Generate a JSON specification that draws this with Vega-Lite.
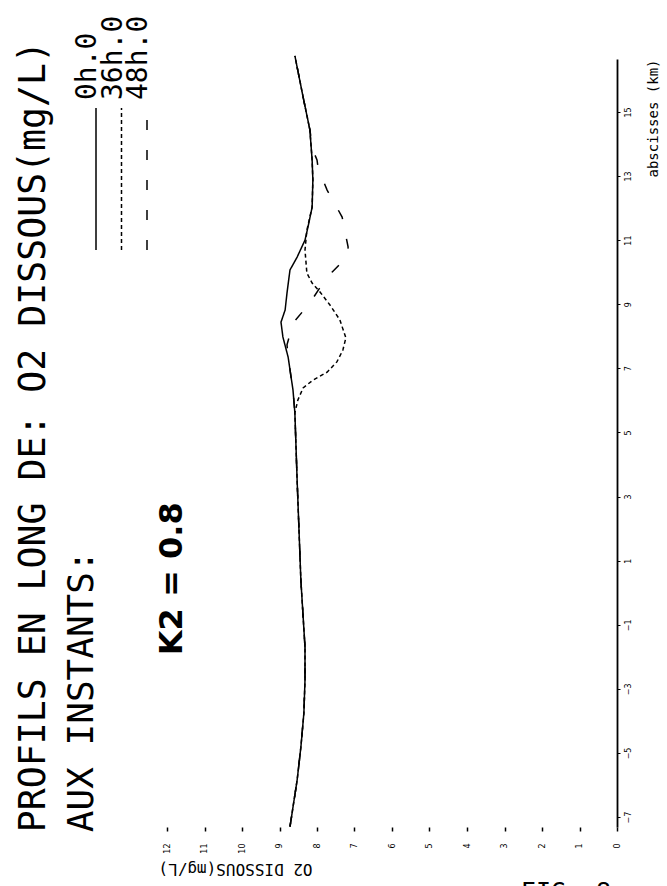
{
  "$schema": "https://vega.github.io/schema/vega-lite/v6.json",
  "width": 450,
  "height": 768,
  "autosize": {"type": "none"},
  "padding": {"left": 167, "top": 59, "right": 50, "bottom": 59},
  "background": "white",
  "config": {
    "view": {"stroke": null},
    "font": "DejaVu Sans",
    "axisBottom": {
      "domain": false, "grid": false, "ticks": true, "tickSize": 4, "tickWidth": 1.5, "tickColor": "black",
      "labelAngle": -90, "labelAlign": "right", "labelBaseline": "middle", "labelFontSize": 8,
      "labelColor": "black", "labelPadding": 12, "labelFlush": false, "labelOverlap": false, "labelSeparation": 0,
      "titleAngle": 180, "titleX": 68, "titleY": 41,
      "titleAlign": "center", "titleBaseline": "middle", "titleFont": "DejaVu Sans Mono",
      "titleFontSize": 16, "titleFontWeight": "normal", "titleColor": "black"
    },
    "axisRight": {
      "grid": false, "domain": true, "domainColor": "black", "domainWidth": 1.8,
      "tickSize": 3, "tickColor": "black", "tickWidth": 1,
      "labelAngle": -90, "labelAlign": "center", "labelBaseline": "top", "labelPadding": 4,
      "labelFontSize": 8, "labelColor": "black", "labelFlush": false, "labelOverlap": false,
      "titleAngle": -90, "titleAlign": "left", "titleBaseline": "alphabetic",
      "titleX": 40, "titleY": 118, "titleFont": "DejaVu Sans Mono", "titleFontSize": 14,
      "titleFontWeight": "normal", "titleColor": "black"
    }
  },
  "datasets": {
    "profiles": [
      {"series": "0h.0", "km": 16.75, "o2": 8.59},
      {"series": "0h.0", "km": 15.46, "o2": 8.37},
      {"series": "0h.0", "km": 14.44, "o2": 8.19},
      {"series": "0h.0", "km": 13.5, "o2": 8.13},
      {"series": "0h.0", "km": 12.88, "o2": 8.11},
      {"series": "0h.0", "km": 12.03, "o2": 8.13},
      {"series": "0h.0", "km": 11.41, "o2": 8.24},
      {"series": "0h.0", "km": 11.0, "o2": 8.32},
      {"series": "0h.0", "km": 10.47, "o2": 8.53},
      {"series": "0h.0", "km": 10.07, "o2": 8.72},
      {"series": "0h.0", "km": 9.35, "o2": 8.8},
      {"series": "0h.0", "km": 8.82, "o2": 8.85},
      {"series": "0h.0", "km": 8.44, "o2": 8.96},
      {"series": "0h.0", "km": 7.98, "o2": 8.91},
      {"series": "0h.0", "km": 7.35, "o2": 8.77},
      {"series": "0h.0", "km": 6.32, "o2": 8.64},
      {"series": "0h.0", "km": 5.61, "o2": 8.59},
      {"series": "0h.0", "km": 3.51, "o2": 8.53},
      {"series": "0h.0", "km": 0.39, "o2": 8.43},
      {"series": "0h.0", "km": -1.7, "o2": 8.32},
      {"series": "0h.0", "km": -2.73, "o2": 8.32},
      {"series": "0h.0", "km": -3.76, "o2": 8.35},
      {"series": "0h.0", "km": -4.82, "o2": 8.43},
      {"series": "0h.0", "km": -5.85, "o2": 8.53},
      {"series": "0h.0", "km": -7.3, "o2": 8.72},
      {"series": "36h.0", "km": 16.75, "o2": 8.59},
      {"series": "36h.0", "km": 15.46, "o2": 8.37},
      {"series": "36h.0", "km": 14.44, "o2": 8.19},
      {"series": "36h.0", "km": 13.5, "o2": 8.13},
      {"series": "36h.0", "km": 12.88, "o2": 8.11},
      {"series": "36h.0", "km": 12.03, "o2": 8.13},
      {"series": "36h.0", "km": 11.31, "o2": 8.27},
      {"series": "36h.0", "km": 10.69, "o2": 8.32},
      {"series": "36h.0", "km": 9.97, "o2": 8.27},
      {"series": "36h.0", "km": 9.66, "o2": 8.13},
      {"series": "36h.0", "km": 9.38, "o2": 7.92},
      {"series": "36h.0", "km": 8.97, "o2": 7.65},
      {"series": "36h.0", "km": 8.51, "o2": 7.39},
      {"series": "36h.0", "km": 7.95, "o2": 7.23},
      {"series": "36h.0", "km": 7.57, "o2": 7.31},
      {"series": "36h.0", "km": 7.2, "o2": 7.47},
      {"series": "36h.0", "km": 6.88, "o2": 7.73},
      {"series": "36h.0", "km": 6.63, "o2": 8.11},
      {"series": "36h.0", "km": 6.39, "o2": 8.37},
      {"series": "36h.0", "km": 6.01, "o2": 8.51},
      {"series": "36h.0", "km": 5.61, "o2": 8.59},
      {"series": "36h.0", "km": 3.51, "o2": 8.53},
      {"series": "36h.0", "km": 0.39, "o2": 8.43},
      {"series": "36h.0", "km": -1.7, "o2": 8.32},
      {"series": "36h.0", "km": -2.73, "o2": 8.32},
      {"series": "36h.0", "km": -3.76, "o2": 8.35},
      {"series": "36h.0", "km": -4.82, "o2": 8.43},
      {"series": "36h.0", "km": -5.85, "o2": 8.53},
      {"series": "36h.0", "km": -7.3, "o2": 8.72},
      {"series": "48h.0", "km": 16.75, "o2": 8.59},
      {"series": "48h.0", "km": 15.46, "o2": 8.37},
      {"series": "48h.0", "km": 14.44, "o2": 8.19},
      {"series": "48h.0", "km": 13.81, "o2": 8.11},
      {"series": "48h.0", "km": 13.5, "o2": 8.0},
      {"series": "48h.0", "km": 13.25, "o2": 7.97},
      {"series": "48h.0", "km": 12.56, "o2": 7.73},
      {"series": "48h.0", "km": 11.72, "o2": 7.33},
      {"series": "48h.0", "km": 10.78, "o2": 7.17},
      {"series": "48h.0", "km": 10.47, "o2": 7.2},
      {"series": "48h.0", "km": 10.0, "o2": 7.6},
      {"series": "48h.0", "km": 9.66, "o2": 7.84},
      {"series": "48h.0", "km": 9.04, "o2": 8.19},
      {"series": "48h.0", "km": 8.41, "o2": 8.64},
      {"series": "48h.0", "km": 7.73, "o2": 8.8},
      {"series": "48h.0", "km": 7.35, "o2": 8.77},
      {"series": "48h.0", "km": 6.32, "o2": 8.64},
      {"series": "48h.0", "km": 5.61, "o2": 8.59},
      {"series": "48h.0", "km": 3.51, "o2": 8.53},
      {"series": "48h.0", "km": 0.39, "o2": 8.43},
      {"series": "48h.0", "km": -1.7, "o2": 8.32},
      {"series": "48h.0", "km": -2.73, "o2": 8.32},
      {"series": "48h.0", "km": -3.76, "o2": 8.35},
      {"series": "48h.0", "km": -4.82, "o2": 8.43},
      {"series": "48h.0", "km": -5.85, "o2": 8.53},
      {"series": "48h.0", "km": -7.3, "o2": 8.72}
    ],
    "legend": [
      {"series": "0h.0"},
      {"series": "36h.0"},
      {"series": "48h.0"}
    ]
  },
  "resolve": {"scale": {"x": "independent"}},
  "layer": [
    {
      "layer": [
        {
          "data": {"name": "profiles"},
          "mark": {"type": "line", "color": "black", "strokeWidth": 1.5, "strokeCap": "butt"},
          "encoding": {
            "x": {
              "field": "o2", "type": "quantitative",
              "scale": {"domain": [0, 12], "reverse": true, "nice": false, "zero": false},
              "axis": {"orient": "bottom", "values": [0, 1, 2, 3, 4, 5, 6, 7, 8, 9, 10, 11, 12], "tickCount": 13, "title": "O2 DISSOUS(mg/L)"}
            },
            "y": {
              "field": "km", "type": "quantitative",
              "scale": {"domain": [-7.31, 16.65], "nice": false, "zero": false},
              "axis": {"orient": "right", "values": [-7, -5, -3, -1, 1, 3, 5, 7, 9, 11, 13, 15], "title": "abscisses (km)"}
            },
            "strokeDash": {
              "field": "series", "type": "nominal",
              "scale": {"domain": ["0h.0", "36h.0", "48h.0"], "range": [[1, 0], [4, 3], [10, 20]]},
              "legend": null
            },
            "order": {"field": "km", "type": "quantitative"}
          }
        },
        {
          "data": {"values": [{}]},
          "mark": {"type": "text", "text": "PROFILS EN LONG DE:  O2 DISSOUS(mg/L)", "angle": -90, "align": "left",
                   "baseline": "alphabetic", "font": "DejaVu Sans Mono", "fontSize": 36.5, "color": "black"},
          "encoding": {
            "x": {"datum": 15.25, "axis": {"orient": "bottom", "values": [0, 1, 2, 3, 4, 5, 6, 7, 8, 9, 10, 11, 12], "tickCount": 13, "title": "O2 DISSOUS(mg/L)"}},
            "y": {"datum": -7.47, "axis": {"orient": "right", "values": [-7, -5, -3, -1, 1, 3, 5, 7, 9, 11, 13, 15], "title": "abscisses (km)"}}
          }
        },
        {
          "data": {"values": [{}]},
          "mark": {"type": "text", "text": "AUX INSTANTS:", "angle": -90, "align": "left",
                   "baseline": "alphabetic", "font": "DejaVu Sans Mono", "fontSize": 36, "color": "black"},
          "encoding": {
            "x": {"datum": 13.97, "axis": {"orient": "bottom", "values": [0, 1, 2, 3, 4, 5, 6, 7, 8, 9, 10, 11, 12], "tickCount": 13, "title": "O2 DISSOUS(mg/L)"}},
            "y": {"datum": -7.47, "axis": {"orient": "right", "values": [-7, -5, -3, -1, 1, 3, 5, 7, 9, 11, 13, 15], "title": "abscisses (km)"}}
          }
        },
        {
          "data": {"values": [{}]},
          "mark": {"type": "text", "text": "K2 = 0.8", "angle": -90, "align": "left",
                   "baseline": "alphabetic", "font": "DejaVu Sans", "fontWeight": "bold", "fontSize": 32, "color": "black"},
          "encoding": {
            "x": {"datum": 11.6, "axis": {"orient": "bottom", "values": [0, 1, 2, 3, 4, 5, 6, 7, 8, 9, 10, 11, 12], "tickCount": 13, "title": "O2 DISSOUS(mg/L)"}},
            "y": {"datum": -1.95, "axis": {"orient": "right", "values": [-7, -5, -3, -1, 1, 3, 5, 7, 9, 11, 13, 15], "title": "abscisses (km)"}}
          }
        },
        {
          "data": {"values": [{}]},
          "mark": {"type": "text", "text": "FIG. 8", "align": "center",
                   "baseline": "alphabetic", "font": "DejaVu Sans Mono", "fontSize": 25, "color": "black"},
          "encoding": {
            "x": {"datum": 1.36, "axis": {"orient": "bottom", "values": [0, 1, 2, 3, 4, 5, 6, 7, 8, 9, 10, 11, 12], "tickCount": 13, "title": "O2 DISSOUS(mg/L)"}},
            "y": {"datum": -9.59, "axis": {"orient": "right", "values": [-7, -5, -3, -1, 1, 3, 5, 7, 9, 11, 13, 15], "title": "abscisses (km)"}}
          }
        }
      ]
    },
    {
      "data": {"name": "legend"},
      "layer": [
        {
          "mark": {"type": "rule", "color": "black", "strokeWidth": 1.5, "strokeCap": "butt"},
          "encoding": {
            "x": {"field": "series", "type": "nominal",
                  "scale": {"type": "point", "domain": ["0h.0", "36h.0", "48h.0"], "range": [-71, -20], "padding": 0},
                  "axis": null},
            "y": {"datum": 10.69},
            "y2": {"datum": 15.12},
            "strokeDash": {"field": "series", "type": "nominal", "legend": null}
          }
        },
        {
          "mark": {"type": "text", "angle": -90, "align": "left", "baseline": "alphabetic",
                   "font": "DejaVu Sans Mono", "fontSize": 28, "color": "black"},
          "encoding": {
            "x": {"field": "series", "type": "nominal", "axis": null},
            "y": {"datum": 15.37},
            "text": {"field": "series"}
          }
        }
      ]
    }
  ]
}
